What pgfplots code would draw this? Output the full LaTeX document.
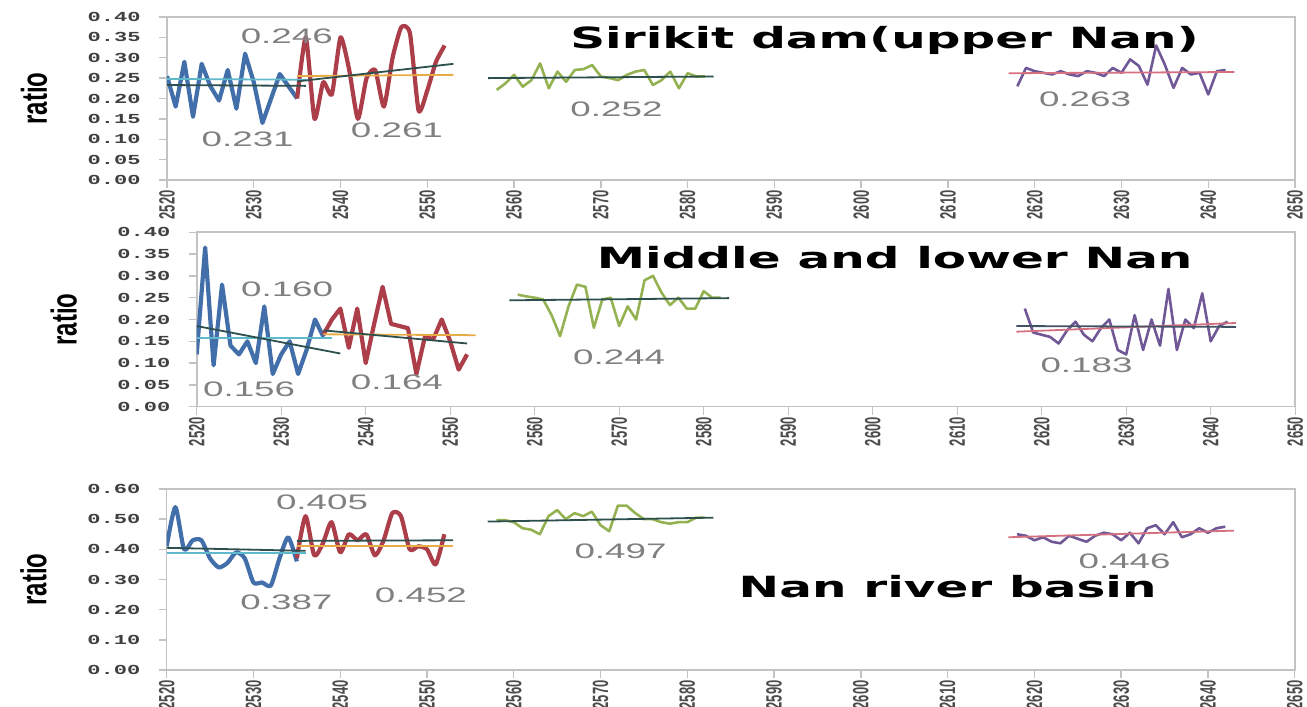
\documentclass[border=0pt]{standalone}
\usepackage{pgfplots}
\pgfplotsset{compat=1.18}
\usepackage{fontspec}
\setmainfont{Liberation Sans}
\setmonofont{Liberation Mono}
\newfontfamily\titlefont{DejaVu Sans}
\definecolor{axisgray}{RGB}{195,195,195}
\definecolor{blueS}{RGB}{66,110,170}
\definecolor{redS}{RGB}{172,62,74}
\definecolor{greenS}{RGB}{148,178,82}
\definecolor{purpS}{RGB}{112,88,150}
\definecolor{darkT}{RGB}{45,80,78}
\definecolor{lightB}{RGB}{95,185,205}
\definecolor{orangeT}{RGB}{232,172,70}
\definecolor{pinkT}{RGB}{212,112,128}
\definecolor{labgray}{RGB}{128,128,128}
\tikzset{
  glab/.style={text=labgray, font=\fontsize{10.5}{12}\selectfont},
  ttl/.style={font=\titlefont\bfseries\fontsize{14.6}{17}\selectfont},
}
\pgfplotsset{
  panel/.style={
    scale only axis, anchor=south west,
    xmin=2520, xmax=2650, ymin=0, enlargelimits=false,
    xtick={2520,2530,2540,2550,2560,2570,2580,2590,2600,2610,2620,2630,2640,2650},
    xtick pos=bottom, ytick pos=left, tick align=outside, major tick length=4pt,
    axis line style={draw=axisgray, line width=0.8pt},
    tick style={draw=axisgray, line width=0.7pt},
    /pgf/number format/assume math mode=true,
    xticklabel={\rotatebox{90}{\scalebox{1}[1.7]{\pgfmathprintnumber[fixed,precision=0,1000 sep={}]{\tick}}}},
    yticklabel={\scalebox{1.6}[1]{\pgfmathprintnumber[fixed,fixed zerofill,precision=2]{\tick}}},
    xticklabel style={font=\bfseries\fontsize{6.5}{7}\selectfont, anchor=north, inner sep=1pt, text=black!70},
    yticklabel style={font=\ttfamily\bfseries\fontsize{6.9}{7}\selectfont, text=black!75, inner sep=1pt, xshift=-8pt},
    ylabel={\scalebox{1}[1.5]{ratio}},
    ylabel style={font=\bfseries\fontsize{12}{14}\selectfont, at={(rel axis cs:-0.118,0.5)}, anchor=center, rotate=0},
    every axis plot/.append style={line join=round},
  },
  ser/.style={line width=2.1pt},
  thin ser/.style={line width=1.3pt},
  trend/.style={line width=0.9pt},
}
\newcommand{\lab}[1]{\scalebox{1.75}[1]{#1}}
\newcommand{\ttltext}[1]{\scalebox{1.66}[1]{#1}}
\begin{document}
\begin{tikzpicture}
\useasboundingbox (0,0) rectangle (653.5pt,353.5pt);
% ---------------- top panel ----------------
\begin{axis}[panel, at={(83.5pt,263.5pt)}, width=564pt, height=81.5pt,
  ymax=0.40, ytick={0,0.05,0.1,0.15,0.2,0.25,0.3,0.35,0.4}]
\addplot[ser, blueS] coordinates {(2520,0.255)(2521,0.18)(2522,0.29)(2523,0.155)(2524,0.285)(2525,0.23)(2526,0.195)(2527,0.27)(2528,0.175)(2529,0.31)(2530,0.24)(2531,0.14)(2532,0.20)(2533,0.26)(2534,0.23)(2535,0.20)};
\addplot[ser, redS, smooth, tension=0.35] coordinates {(2535,0.20)(2536,0.35)(2537,0.15)(2538,0.24)(2539,0.21)(2540,0.35)(2541,0.27)(2542,0.15)(2543,0.25)(2544,0.27)(2545,0.18)(2546,0.30)(2547,0.375)(2548,0.36)(2549,0.17)(2550,0.22)(2551,0.29)(2552,0.33)};
\addplot[thin ser, greenS] coordinates {(2558,0.221)(2559,0.237)(2560,0.258)(2561,0.229)(2562,0.245)(2563,0.286)(2564,0.225)(2565,0.266)(2566,0.241)(2567,0.27)(2568,0.272)(2569,0.282)(2570,0.254)(2571,0.25)(2572,0.245)(2573,0.258)(2574,0.266)(2575,0.27)(2576,0.233)(2577,0.245)(2578,0.266)(2579,0.225)(2580,0.262)(2581,0.254)(2582,0.254)};
\addplot[thin ser, purpS] coordinates {(2618,0.23)(2619,0.275)(2620,0.267)(2621,0.263)(2622,0.259)(2623,0.267)(2624,0.259)(2625,0.255)(2626,0.267)(2627,0.263)(2628,0.255)(2629,0.275)(2630,0.263)(2631,0.296)(2632,0.28)(2633,0.234)(2634,0.33)(2635,0.283)(2636,0.226)(2637,0.275)(2638,0.259)(2639,0.263)(2640,0.21)(2641,0.267)(2642,0.27)};
\addplot[trend, lightB] coordinates {(2520,0.248)(2536,0.246)};
\addplot[trend, darkT] coordinates {(2520,0.233)(2536,0.231)};
\addplot[trend, orangeT] coordinates {(2535,0.255)(2553,0.258)};
\addplot[trend, darkT] coordinates {(2535,0.242)(2553,0.285)};
\addplot[trend, darkT] coordinates {(2557,0.250)(2583,0.254)};
\addplot[trend, pinkT] coordinates {(2617,0.262)(2643,0.265)};
\node[glab] at (axis cs:2533.8,0.353) {\lab{0.246}};
\node[glab] at (axis cs:2529.3,0.100) {\lab{0.231}};
\node[glab] at (axis cs:2546.5,0.122) {\lab{0.261}};
\node[glab] at (axis cs:2571.8,0.174) {\lab{0.252}};
\node[glab] at (axis cs:2625.8,0.199) {\lab{0.263}};
\node[ttl] at (axis cs:2602.7,0.342) {\ttltext{Sirikit dam(upper Nan)}};
\end{axis}
% ---------------- middle panel ----------------
\begin{axis}[panel, at={(98.35pt,150.15pt)}, width=549.25pt, height=87.2pt,
  ymax=0.40, ytick={0,0.05,0.1,0.15,0.2,0.25,0.3,0.35,0.4},
  ylabel style={at={(rel axis cs:-0.121,0.5)}}]
\addplot[ser, blueS] coordinates {(2520,0.12)(2521,0.365)(2522,0.095)(2523,0.28)(2524,0.14)(2525,0.12)(2526,0.15)(2527,0.10)(2528,0.23)(2529,0.075)(2530,0.12)(2531,0.15)(2532,0.075)(2533,0.13)(2534,0.20)(2535,0.16)};
\addplot[ser, redS] coordinates {(2535,0.165)(2536,0.20)(2537,0.225)(2538,0.135)(2539,0.225)(2540,0.10)(2541,0.19)(2542,0.275)(2543,0.19)(2544,0.185)(2545,0.18)(2546,0.075)(2547,0.16)(2548,0.155)(2549,0.20)(2550,0.15)(2551,0.085)(2552,0.12)};
\addplot[thin ser, greenS] coordinates {(2558,0.257)(2559,0.253)(2560,0.25)(2561,0.246)(2562,0.21)(2563,0.162)(2564,0.23)(2565,0.28)(2566,0.275)(2567,0.181)(2568,0.246)(2569,0.25)(2570,0.185)(2571,0.23)(2572,0.2)(2573,0.29)(2574,0.30)(2575,0.262)(2576,0.233)(2577,0.25)(2578,0.225)(2579,0.225)(2580,0.265)(2581,0.25)(2582,0.25)};
\addplot[thin ser, purpS] coordinates {(2618,0.225)(2619,0.17)(2620,0.165)(2621,0.16)(2622,0.145)(2623,0.175)(2624,0.195)(2625,0.165)(2626,0.15)(2627,0.18)(2628,0.20)(2629,0.13)(2630,0.12)(2631,0.21)(2632,0.13)(2633,0.20)(2634,0.14)(2635,0.27)(2636,0.13)(2637,0.20)(2638,0.18)(2639,0.26)(2640,0.15)(2641,0.185)(2642,0.195)};
\addplot[trend, lightB] coordinates {(2520,0.157)(2536,0.157)};
\addplot[trend, darkT] coordinates {(2520,0.185)(2537,0.122)};
\addplot[trend, orangeT] coordinates {(2535,0.166)(2553,0.164)};
\addplot[trend, darkT] coordinates {(2535,0.175)(2552,0.145)};
\addplot[trend, darkT] coordinates {(2557,0.244)(2583,0.249)};
\addplot[trend, pinkT] coordinates {(2617,0.172)(2643,0.192)};
\addplot[trend, darkT!70!purpS] coordinates {(2617,0.185)(2643,0.183)};
\node[glab] at (axis cs:2530.7,0.270) {\lab{0.160}};
\node[glab] at (axis cs:2526.2,0.040) {\lab{0.156}};
\node[glab] at (axis cs:2543.7,0.056) {\lab{0.164}};
\node[glab] at (axis cs:2570.0,0.114) {\lab{0.244}};
\node[glab] at (axis cs:2625.3,0.096) {\lab{0.183}};
\node[ttl] at (axis cs:2602.6,0.341) {\ttltext{Middle and lower Nan}};
\end{axis}
% ---------------- bottom panel ----------------
\begin{axis}[panel, at={(83.35pt,18.5pt)}, width=564pt, height=90.5pt,
  ymax=0.60, ytick={0,0.1,0.2,0.3,0.4,0.5,0.6}]
\addplot[ser, blueS, smooth, tension=0.4] coordinates {(2520,0.41)(2521,0.54)(2522,0.40)(2523,0.43)(2524,0.43)(2525,0.37)(2526,0.34)(2527,0.355)(2528,0.39)(2529,0.37)(2530,0.29)(2531,0.29)(2532,0.28)(2533,0.37)(2534,0.44)(2535,0.36)};
\addplot[ser, redS, smooth, tension=0.4] coordinates {(2535,0.37)(2536,0.51)(2537,0.38)(2538,0.42)(2539,0.49)(2540,0.39)(2541,0.45)(2542,0.43)(2543,0.45)(2544,0.38)(2545,0.43)(2546,0.52)(2547,0.51)(2548,0.40)(2549,0.41)(2550,0.40)(2551,0.35)(2552,0.45)};
\addplot[thin ser, greenS] coordinates {(2558,0.497)(2559,0.497)(2560,0.49)(2561,0.47)(2562,0.465)(2563,0.45)(2564,0.51)(2565,0.53)(2566,0.50)(2567,0.52)(2568,0.51)(2569,0.525)(2570,0.48)(2571,0.46)(2572,0.545)(2573,0.545)(2574,0.52)(2575,0.50)(2576,0.50)(2577,0.49)(2578,0.485)(2579,0.49)(2580,0.49)(2581,0.505)(2582,0.505)};
\addplot[thin ser, purpS] coordinates {(2618,0.45)(2619,0.445)(2620,0.43)(2621,0.44)(2622,0.425)(2623,0.42)(2624,0.445)(2625,0.435)(2626,0.425)(2627,0.445)(2628,0.455)(2629,0.45)(2630,0.43)(2631,0.455)(2632,0.42)(2633,0.47)(2634,0.48)(2635,0.45)(2636,0.49)(2637,0.44)(2638,0.45)(2639,0.47)(2640,0.455)(2641,0.47)(2642,0.475)};
\addplot[trend, lightB] coordinates {(2520,0.387)(2536,0.387)};
\addplot[trend, darkT] coordinates {(2520,0.405)(2536,0.395)};
\addplot[trend, orangeT] coordinates {(2535,0.412)(2553,0.412)};
\addplot[trend, darkT] coordinates {(2535,0.428)(2553,0.430)};
\addplot[trend, darkT] coordinates {(2557,0.492)(2583,0.505)};
\addplot[trend, pinkT] coordinates {(2617,0.440)(2643,0.462)};
\node[glab] at (axis cs:2537.9,0.557) {\lab{0.405}};
\node[glab] at (axis cs:2533.8,0.226) {\lab{0.387}};
\node[glab] at (axis cs:2549.3,0.248) {\lab{0.452}};
\node[glab] at (axis cs:2572.3,0.392) {\lab{0.497}};
\node[glab] at (axis cs:2630.4,0.359) {\lab{0.446}};
\node[ttl] at (axis cs:2610.0,0.275) {\ttltext{Nan river basin}};
\end{axis}
\end{tikzpicture}
\end{document}
